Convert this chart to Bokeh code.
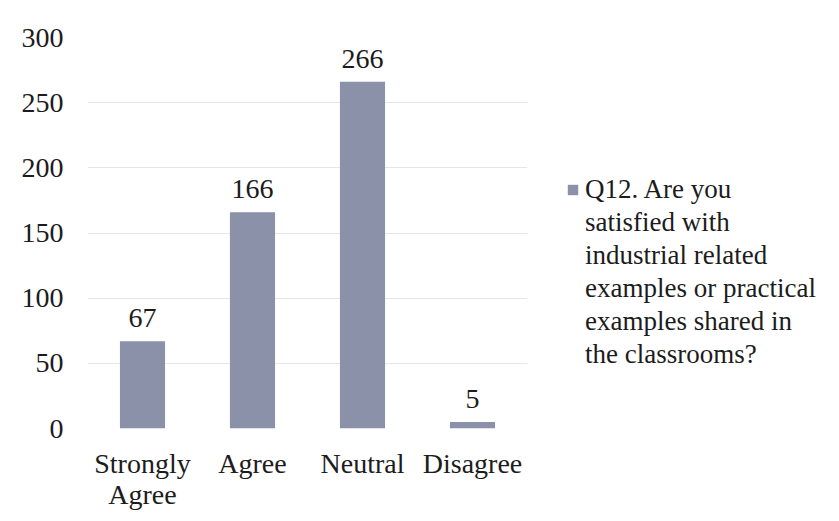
from bokeh.plotting import figure
from bokeh.models import ColumnDataSource, Legend, LegendItem, Range1d, FactorRange
from bokeh.core.properties import value
from bokeh.embed import file_html
from bokeh.resources import INLINE

categories = ["Strongly\nAgree", "Agree", "Neutral", "Disagree"]
counts = [67, 166, 266, 5]
y_ticks = [0, 50, 100, 150, 200, 250, 300]
series_lines = ["Q12. Are you", "satisfied with", "industrial related",
                "examples or practical", "examples shared in", "the classrooms?"]

FONT = "Liberation Serif"
BAR = "#8a91a9"
TXT = "#1c1c1c"

src = ColumnDataSource(dict(cat=categories, val=counts, lab=[str(v) for v in counts]))

p = figure(frame_width=440, frame_height=391, x_range=FactorRange(*categories),
           y_range=Range1d(0, 300), output_backend="svg", toolbar_location=None,
           min_border_left=87, min_border_right=304, min_border_top=37, min_border_bottom=85)
p.outline_line_color = None
r = p.vbar(x="cat", top="val", width=0.41, source=src, fill_color=BAR, line_color=None)
p.text(x="cat", y="val", text="lab", source=src, text_align="center", text_baseline="bottom",
       y_offset=-14, text_font=value(FONT), text_font_size="28px", text_color=TXT)

p.yaxis.ticker = y_ticks
for ax in (p.xaxis, p.yaxis):
    ax.axis_line_color = None
    ax.major_tick_line_color = None
    ax.minor_tick_line_color = None
    ax.major_tick_out = 0
    ax.major_tick_in = 0
    ax.major_label_text_font = FONT
    ax.major_label_text_font_size = "28px"
    ax.major_label_text_color = TXT
p.yaxis.major_label_standoff = 24
p.xaxis.major_label_standoff = 19
p.xaxis.major_label_text_line_height = 1.0
p.xgrid.grid_line_color = None
p.ygrid.grid_line_color = "#e6e6e6"

items = [LegendItem(label=series_lines[0], renderers=[r])]
items += [LegendItem(label=s, renderers=[]) for s in series_lines[1:]]
legend = Legend(items=items, location=(39, 57),
                label_text_font=FONT, label_text_font_size="27px", label_text_color=TXT,
                glyph_width=13, glyph_height=13, label_height=33, spacing=0,
                border_line_color=None, background_fill_alpha=0, label_standoff=6,
                margin=0, padding=0)
p.add_layout(legend, "right")

open("out.html", "w").write(file_html(p, INLINE))
